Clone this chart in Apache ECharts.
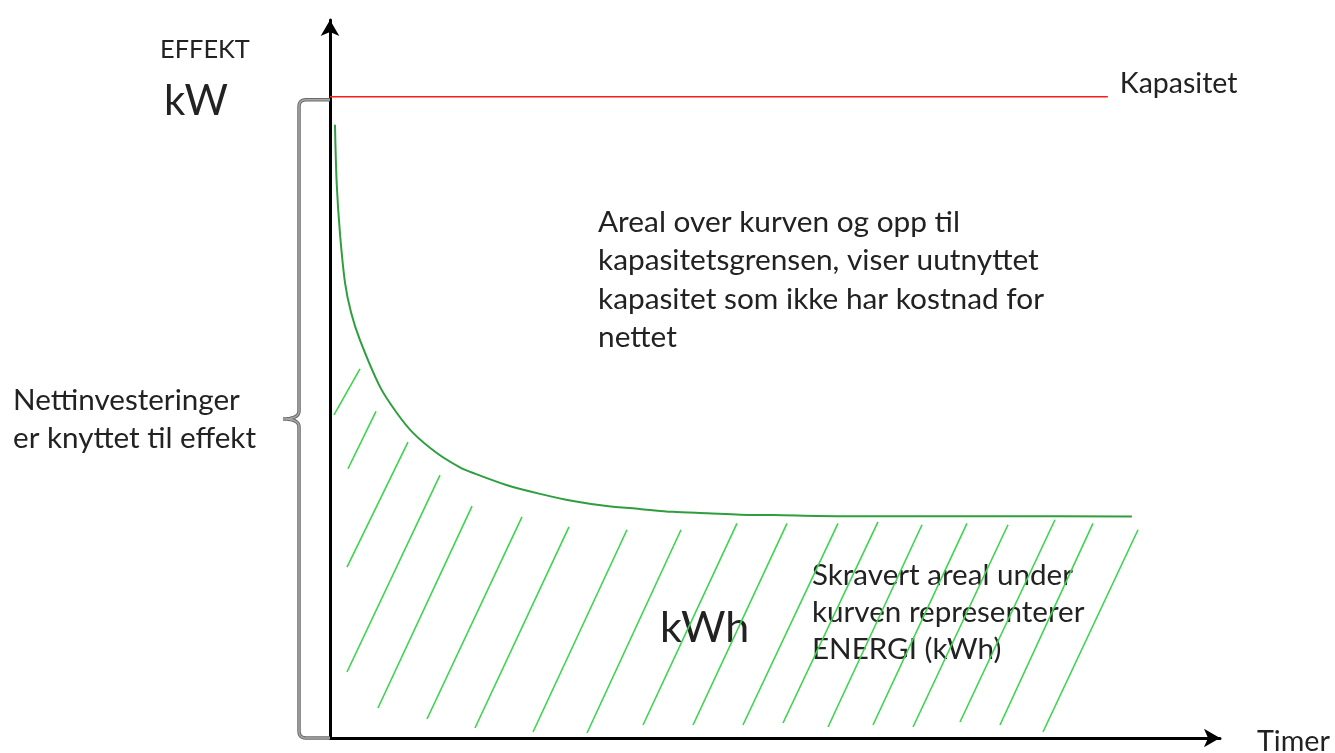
<!DOCTYPE html>
<html>
<head>
<meta charset="utf-8">
<script src="https://cdn.jsdelivr.net/npm/echarts@6/dist/echarts.min.js"></script>
<style>
html,body{margin:0;padding:0;background:#fff;}
#chart{width:1335px;height:753px;}
</style>
</head>
<body>
<div id="chart"></div>
<script>
// ---- data (arbitrary units: x = hours share 0..100, y = power 0..100) ----
const capacity = 89.3;          // Kapasitet level
const capacityEnd = 87.4;       // where red line ends
const curveX = [0.56, 0.75, 1.12, 1.69, 2.36, 3.37, 5.62, 7.49, 9.33, 12.0, 14.6, 16.1, 19.9, 23.6, 27.3, 31.1, 34.8, 38.5, 42.4, 46.1, 49.8, 57.3, 75.3, 90.1];
const curveY = [85.4, 77.3, 70.3, 63.4, 59.3, 55.4, 48.9, 45.3, 42.5, 39.7, 37.7, 36.9, 35.2, 34.0, 33.0, 32.3, 31.9, 31.5, 31.3, 31.1, 31.05, 30.9, 30.9, 30.85];
// hatch segments under the curve (start = lower end, end = upper end)
const hatchStart = [[0.45,45.0],[2.02,37.5],[1.91,23.8],[1.91,9.19],[5.39,4.18],[10.9,2.65],[16.29,1.39],[22.81,0.84],[28.88,0.70],[35.17,1.81],[40.79,1.81],[46.4,1.81],[50.9,2.09],[55.96,1.53],[61.01,1.81],[65.51,1.53],[70.79,2.23],[75.28,1.81],[80.11,0.84]];
const hatchEnd   = [[3.37,51.4],[5.17,45.5],[8.76,41.2],[12.36,36.6],[15.96,32.3],[21.57,30.8],[26.85,29.4],[33.37,29.0],[39.44,29.0],[45.73,29.9],[51.35,29.9],[57.08,29.9],[61.57,30.1],[66.52,29.7],[71.57,29.9],[76.18,29.7],[81.46,30.4],[85.73,29.9],[90.79,29.0]];

const FONT = 'Lato';
const chart = echarts.init(document.getElementById('chart'), null, {renderer:'canvas'});

const option = {
  animation: false,
  backgroundColor: '#ffffff',
  grid: {left: 330, top: 20, right: 115, bottom: 15, containLabel: false},
  xAxis: {
    type: 'value', min: 0, max: 100,
    axisLine: {show: true, onZero: false, symbol: ['none','arrow'], symbolSize: [14,16], lineStyle: {color: '#000', width: 3}},
    axisTick: {show: false}, axisLabel: {show: false}, splitLine: {show: false}
  },
  yAxis: {
    type: 'value', min: 0, max: 100,
    axisLine: {show: true, onZero: false, symbol: ['none','arrow'], symbolSize: [14,16], lineStyle: {color: '#000', width: 3}},
    axisTick: {show: false}, axisLabel: {show: false}, splitLine: {show: false}
  },
  series: [
    {
      type: 'lines', coordinateSystem: 'cartesian2d', silent: true,
      lineStyle: {color: '#3dd44e', width: 1.6, opacity: 1},
      data: hatchStart.map((s, i) => ({coords: [s, hatchEnd[i]]}))
    },
    {
      type: 'line', smooth: 0.3, showSymbol: false, silent: true,
      lineStyle: {color: '#2f9e3f', width: 2},
      data: curveX.map((x, i) => [x, curveY[i]])
    },
    {
      type: 'line', showSymbol: false, silent: true,
      lineStyle: {color: '#ff1a1a', width: 1.5},
      data: [[0, capacity], [capacityEnd, capacity]],
      endLabel: {show: true, formatter: 'Kapasitet', distance: 12, offset: [0, -13],
        fontFamily: FONT, fontSize: 28.5, color: '#222'}
    }
  ],
  graphic: []
};
chart.setOption(option);

// ---- annotations ----
const pTop = chart.convertToPixel({gridIndex: 0}, [0, capacity]);
const pBot = chart.convertToPixel({gridIndex: 0}, [0, 0]);
const xr = pTop[0], yT = pTop[1] + 3, yB = pBot[1];
const xv = xr - 31, xn = xr - 50, yM = (yT + yB) / 2;
function quad(p0, p1, p2, n) {
  const pts = [];
  for (let i = 1; i <= n; i++) {
    const t = i / n;
    pts.push([(1-t)*(1-t)*p0[0] + 2*(1-t)*t*p1[0] + t*t*p2[0], (1-t)*(1-t)*p0[1] + 2*(1-t)*t*p1[1] + t*t*p2[1]]);
  }
  return pts;
}
let brace = [[xr, yT], [xv + 7, yT]];
brace = brace.concat(quad([xv + 7, yT], [xv, yT], [xv, yT + 7], 6));
brace.push([xv, yM - 8]);
brace = brace.concat(quad([xv, yM - 8], [xv, yM], [xn + 3, yM], 8));
brace = brace.concat(quad([xn + 3, yM], [xv, yM], [xv, yM + 8], 8));
brace.push([xv, yB - 7]);
brace = brace.concat(quad([xv, yB - 7], [xv, yB], [xv + 7, yB], 6));
brace.push([xr, yB]);

const txt = (left, top, text, size, lh) => ({
  type: 'text', left: left, top: top, silent: true,
  style: {text: text, fontFamily: FONT, fontSize: size, lineHeight: lh || size * 1.2, fill: '#222'}
});

chart.setOption({
  graphic: [
    {type: 'polyline', shape: {points: brace}, style: {stroke: '#6a6a6a', lineWidth: 3.5, fill: null}, z: 1, silent: true},
    {type: 'polyline', shape: {points: brace}, style: {stroke: '#a8a8a8', lineWidth: 1.5, fill: null}, z: 2, silent: true},
    txt(160, 35, 'EFFEKT', 25.4, 30),
    txt(164, 76, 'kW', 42),
    txt(13, 381, 'Nettinvesteringer\ner knyttet til effekt', 29.6, 38),
    txt(598, 203, 'Areal over kurven og opp til\nkapasitetsgrensen, viser uutnyttet\nkapasitet som ikke har kostnad for\nnettet', 29.8, 38.5),
    txt(812, 557, 'Skravert areal under\nkurven representerer\nENERGI (kWh)', 29.6, 37),
    txt(660, 602, 'kWh', 43, 52),
    txt(1257, 725, 'Timer', 28.7, 34)
  ]
});
</script>
</body>
</html>
